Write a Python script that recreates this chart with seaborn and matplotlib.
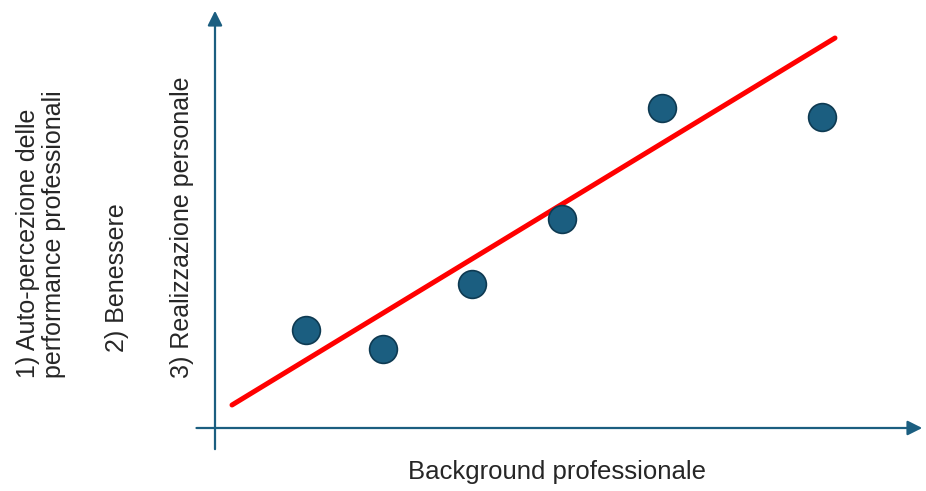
import matplotlib
matplotlib.use("Agg")
import matplotlib.pyplot as plt
import seaborn as sns
import pandas as pd

# punti (background professionale vs realizzazione personale)
bg_x = [9.1, 16.8, 25.7, 34.7, 44.7, 60.7]
real_y = [9.8, 7.9, 14.4, 20.9, 32.0, 31.1]

# retta di tendenza (estremi)
trend_x = [1.7, 62.0]
trend_y = [2.3, 39.0]

xlabel = "Background professionale"
ylabels = ["1) Auto-percezione delle\nperformance professionali", "2) Benessere", "3) Realizzazione personale"]

sns.set_style("white")
plt.rcParams["font.family"] = ["Liberation Sans", "DejaVu Sans"]

W, H = 926, 491
fig = plt.figure(figsize=(W / 100, H / 100), dpi=100)
# origine assi a (215, 428) px, estremi (925, 8) px
ax = fig.add_axes([215 / W, (H - 428) / H, (925 - 215) / W, (428 - 8) / H])
ax.set_xlim(0, 71)
ax.set_ylim(0, 42)

blu = "#1B5E80"
df = pd.DataFrame({"x": bg_x, "y": real_y})
sns.lineplot(x=trend_x, y=trend_y, color="#FF0000", linewidth=3.6, ax=ax, zorder=2)
sns.scatterplot(data=df, x="x", y="y", s=400, color=blu, edgecolor="#0E3A52",
                linewidth=1.2, ax=ax, zorder=3)

for s in ax.spines.values():
    s.set_visible(False)
ax.set_xticks([])
ax.set_yticks([])
ax.set_xlabel("")
ax.set_ylabel("")

# assi con frecce
ax.annotate("", xy=(1.0, 0), xytext=(-0.03, 0), xycoords="axes fraction",
            arrowprops=dict(arrowstyle="-|>", color=blu, lw=1.6, mutation_scale=22))
ax.annotate("", xy=(0, 1.0), xytext=(0, -0.057), xycoords="axes fraction",
            arrowprops=dict(arrowstyle="-|>", color=blu, lw=1.6, mutation_scale=22))

fig.text(557 / W, 1 - 472 / H, xlabel, ha="center", va="center", fontsize=18.5, color="#262626")
pos = [(41, 378), (117, 352), (182, 378)]
for lab, (px, py) in zip(ylabels, pos):
    fig.text(px / W, 1 - py / H, lab, rotation=90, ha="center", va="bottom",
             multialignment="left", fontsize=18, color="#262626", linespacing=1.08)

fig.savefig("out.png", dpi=100)
